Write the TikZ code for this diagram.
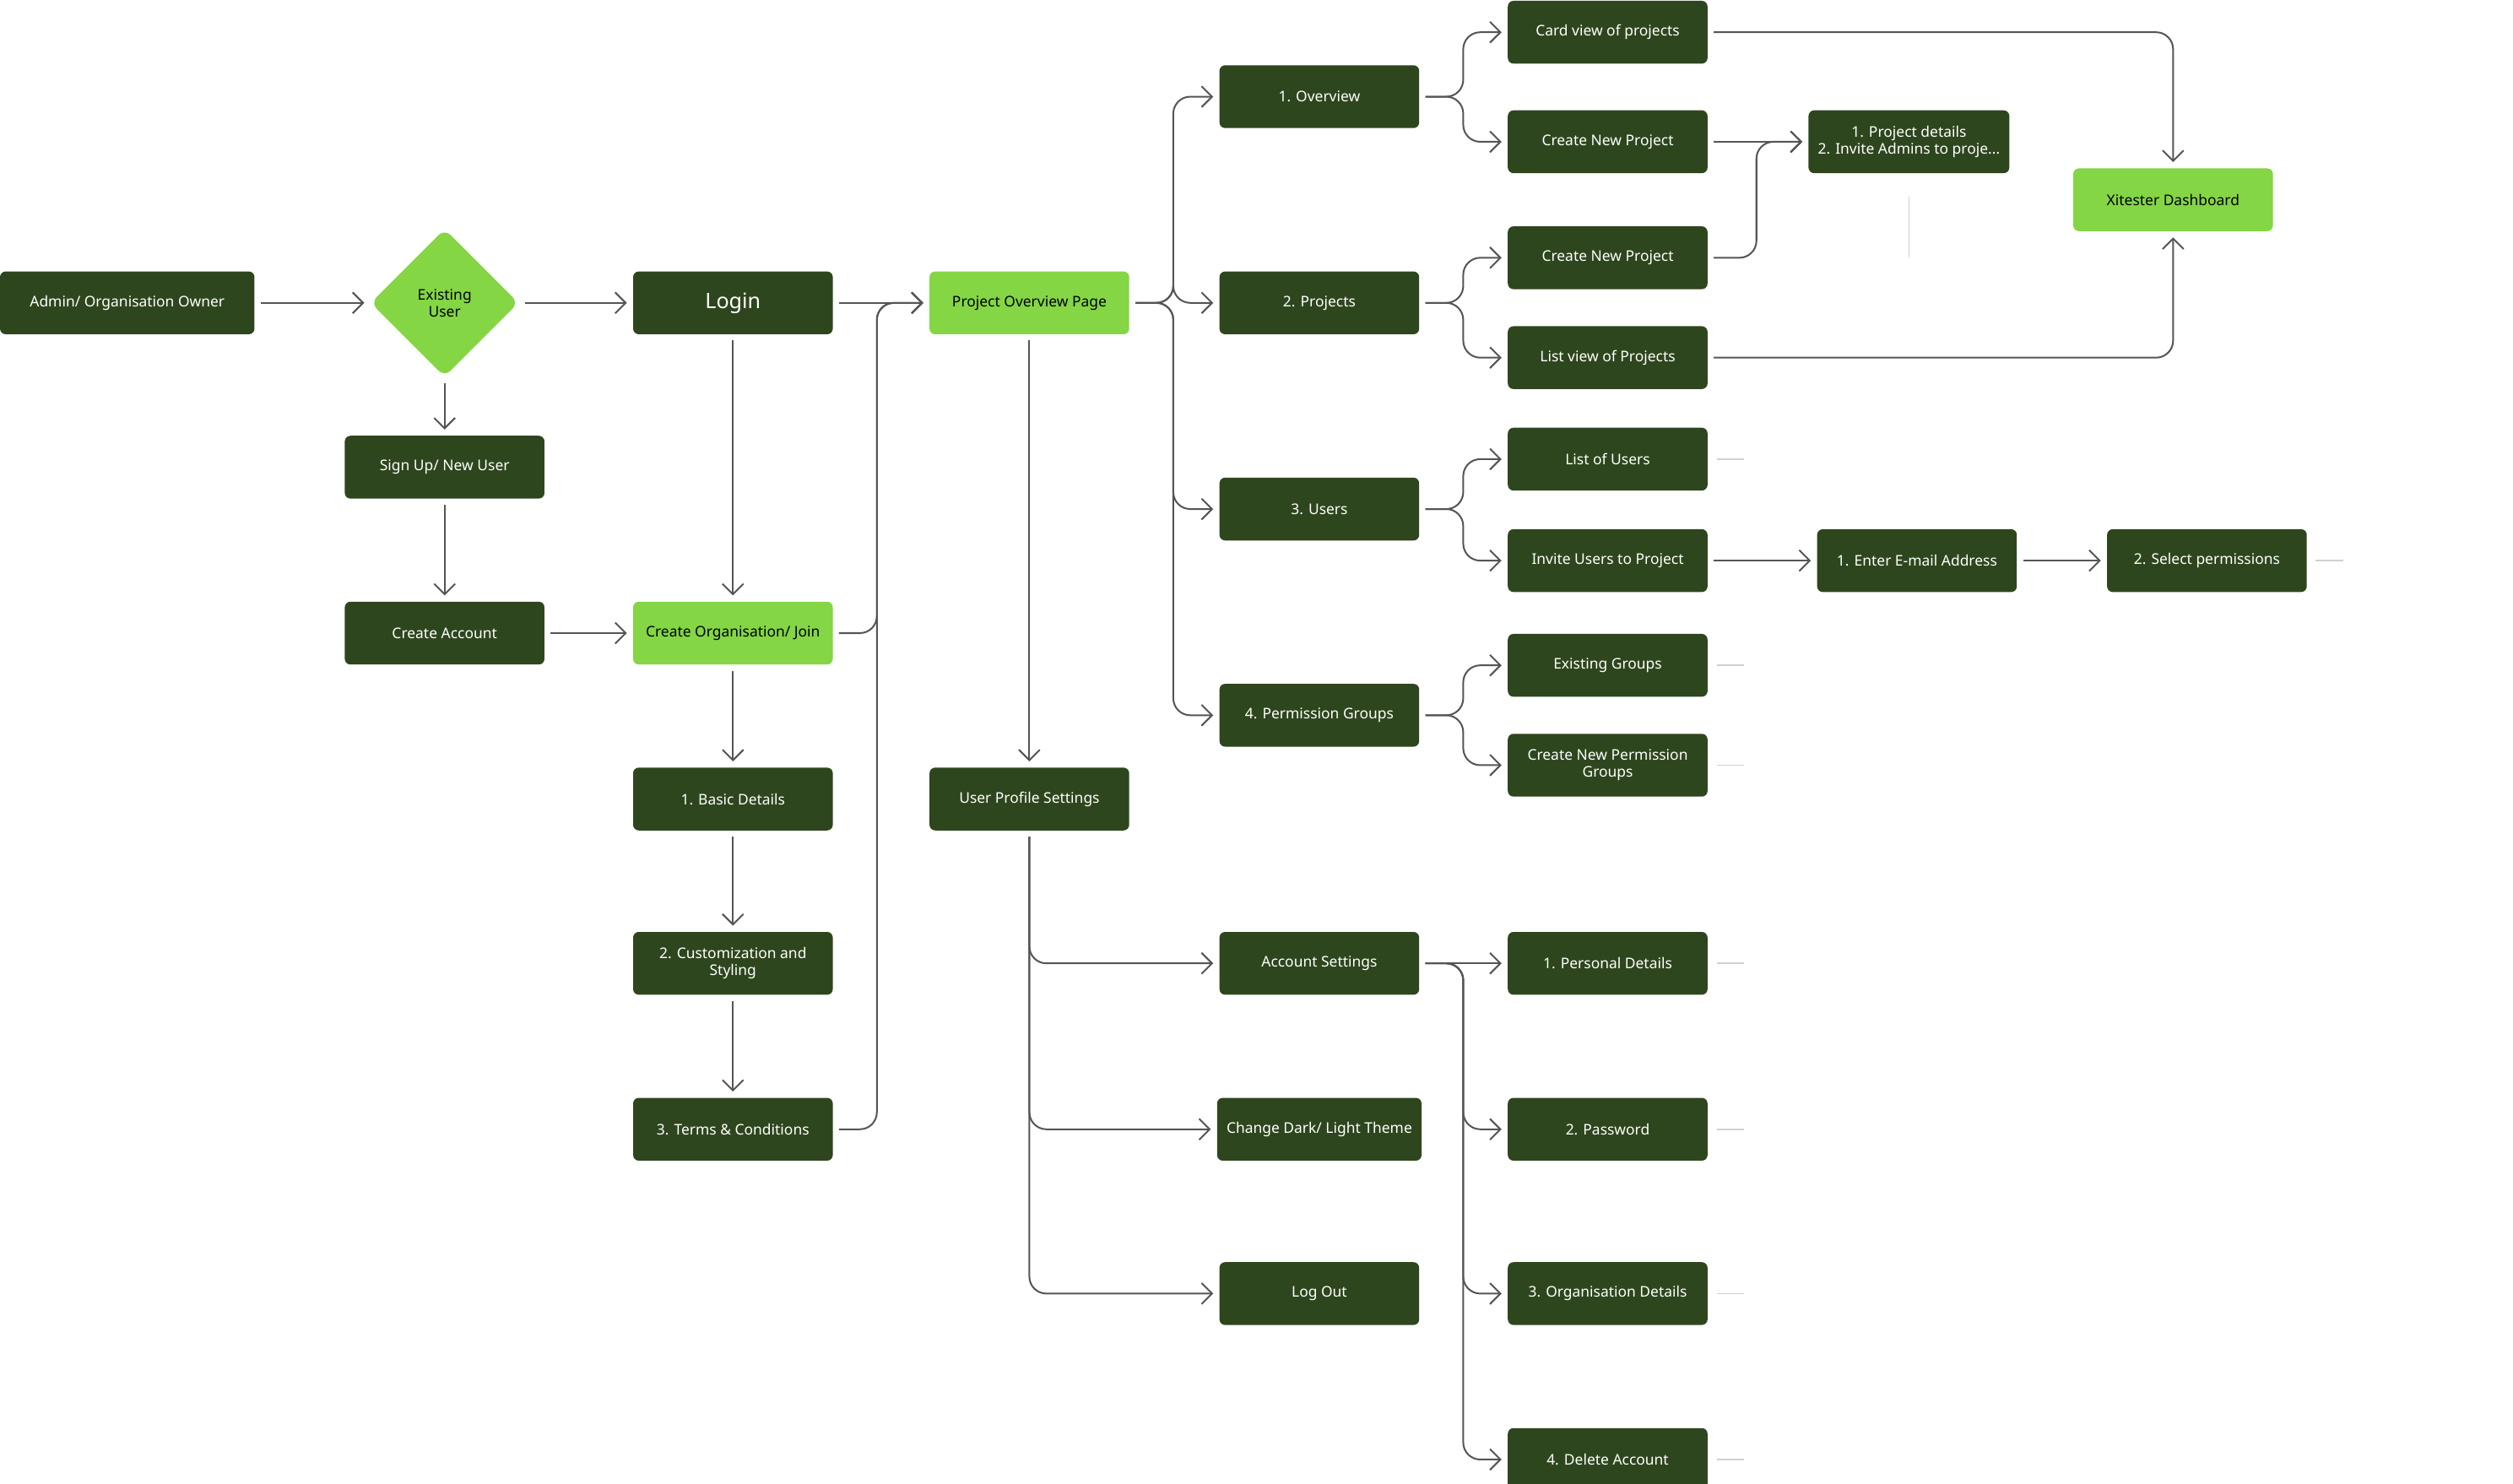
\documentclass[tikz,border=0pt]{standalone}
\usepackage{fontspec}
\setmainfont{Noto Sans}
\usetikzlibrary{positioning,shapes.geometric,arrows.meta}

\definecolor{darkleaf}{HTML}{2E461D}
\definecolor{limeleaf}{HTML}{84D644}
\definecolor{wire}{HTML}{555555}
\definecolor{stubgray}{HTML}{D0D0D0}

\tikzset{
    box/.style={fill=darkleaf, text=white, rounded corners=2pt, minimum width=2.48cm,
        minimum height=0.78cm, align=center, font=\fontsize{5.2}{6}\selectfont},
    limebox/.style={box, fill=limeleaf, text=black},
    link/.style={draw=wire, line width=0.6pt, rounded corners=6pt,
        -{Straight Barb[length=1.3mm,width=2.6mm]}, shorten >=2pt, shorten <=2pt},
    stub/.style={draw=stubgray, line width=0.5pt}
}

\begin{document}
\begin{tikzpicture}[x=0.02cm, y=-0.02cm]
    \useasboundingbox (0,0) rectangle (1560,921);

    % entry
    \node[box, minimum width=3.16cm] (owner) at (79,188) {Admin/ Organisation Owner};
    \node[diamond, fill=limeleaf, rounded corners=3pt, minimum size=1.84cm, align=center,
        font=\fontsize{5.2}{6}\selectfont, inner sep=0pt] (existing) at (276,188) {Existing\\User};
    \node[box, font=\fontsize{7.5}{9}\selectfont] (login) at (455,188) {Login};
    \node[box] (signup) at (276,290) {Sign Up/ New User};
    \node[box] (account) at (276,393) {Create Account};
    \node[limebox] (org) at (455,393) {Create Organisation/ Join};
    \node[box] (basic) at (455,496) {1. Basic Details};
    \node[box] (styling) at (455,598) {2. Customization and\\Styling};
    \node[box] (terms) at (455,701) {3. Terms \& Conditions};

    % overview page
    \node[limebox] (overview) at (639,188) {Project Overview Page};
    \node[box] (profile) at (639,496) {User Profile Settings};
    \node[box] (ovtab) at (819,60) {1. Overview};
    \node[box] (projtab) at (819,188) {2. Projects};
    \node[box] (usertab) at (819,316) {3. Users};
    \node[box] (permtab) at (819,444) {4. Permission Groups};
    \node[box] (accset) at (819,598) {Account Settings};
    \node[box] (theme) at (819,701) {Change Dark/ Light Theme};
    \node[box] (logout) at (819,803) {Log Out};

    % right column
    \node[box] (cardview) at (998,20) {Card view of projects};
    \node[box] (newproj) at (998,88) {Create New Project};
    \node[box] (newprojb) at (998,160) {Create New Project};
    \node[box] (listview) at (998,222) {List view of Projects};
    \node[box] (userlist) at (998,285) {List of Users};
    \node[box] (invite) at (998,348) {Invite Users to Project};
    \node[box] (groups) at (998,413) {Existing Groups};
    \node[box] (newgroup) at (998,475) {Create New Permission\\Groups};
    \node[box] (personal) at (998,598) {1. Personal Details};
    \node[box] (password) at (998,701) {2. Password};
    \node[box] (orgdet) at (998,803) {3. Organisation Details};
    \node[box] (delete) at (998,906) {4. Delete Account};

    \node[box] (projdet) at (1185,88) {1. Project details\\2. Invite Admins to proje...};
    \node[limebox] (dash) at (1349,124) {Xitester Dashboard};
    \node[box] (email) at (1190,348) {1. Enter E-mail Address};
    \node[box] (perms) at (1370,348) {2. Select permissions};

    % sign in flow
    \draw[link] (owner) -- (existing);
    \draw[link] (existing) -- (login);
    \draw[link] (existing) -- (signup);
    \draw[link] (signup) -- (account);
    \draw[link] (account) -- (org);
    \draw[link] (login) -- (org);
    \draw[link] (org) -- (basic);
    \draw[link] (basic) -- (styling);
    \draw[link] (styling) -- (terms);
    \draw[link] (login) -- (overview);
    \draw[link] (org.east) -- ++(27,0) |- (overview.west);
    \draw[link] (terms.east) -- ++(27,0) |- (overview.west);
    \draw[link] (overview) -- (profile);

    % tabs
    \foreach \tab in {ovtab, projtab, usertab, permtab}
        \draw[link] (overview.east) -- ++(27,0) |- (\tab.west);
    \foreach \src/\dst in {ovtab/cardview, ovtab/newproj, projtab/newprojb, projtab/listview,
                           usertab/userlist, usertab/invite, permtab/groups, permtab/newgroup}
        \draw[link] (\src.east) -- ++(27,0) |- (\dst.west);
    \draw[link] (newproj) -- (projdet);
    \draw[link] (newprojb.east) -- ++(30,0) |- (projdet.west);
    \draw[link] (cardview.east) -| (dash.north);
    \draw[link] (listview.east) -| (dash.south);
    \draw[link] (invite) -- (email);
    \draw[link] (email) -- (perms);

    % profile settings
    \foreach \opt in {accset, theme, logout}
        \draw[link] (profile.south) |- (\opt.west);
    \draw[link] (accset) -- (personal);
    \foreach \opt in {password, orgdet, delete}
        \draw[link] (accset.east) -- ++(27,0) |- (\opt.west);

    % loose ends
    \foreach \n in {userlist, groups, newgroup, personal, password, orgdet, delete}
        \draw[stub] ([xshift=3pt]\n.east) -- ++(17,0);
    \draw[stub] ([xshift=3pt]perms.east) -- ++(17,0);
    \draw[stub] ([yshift=-8pt]projdet.south) -- ++(0,38);
\end{tikzpicture}
\end{document}
